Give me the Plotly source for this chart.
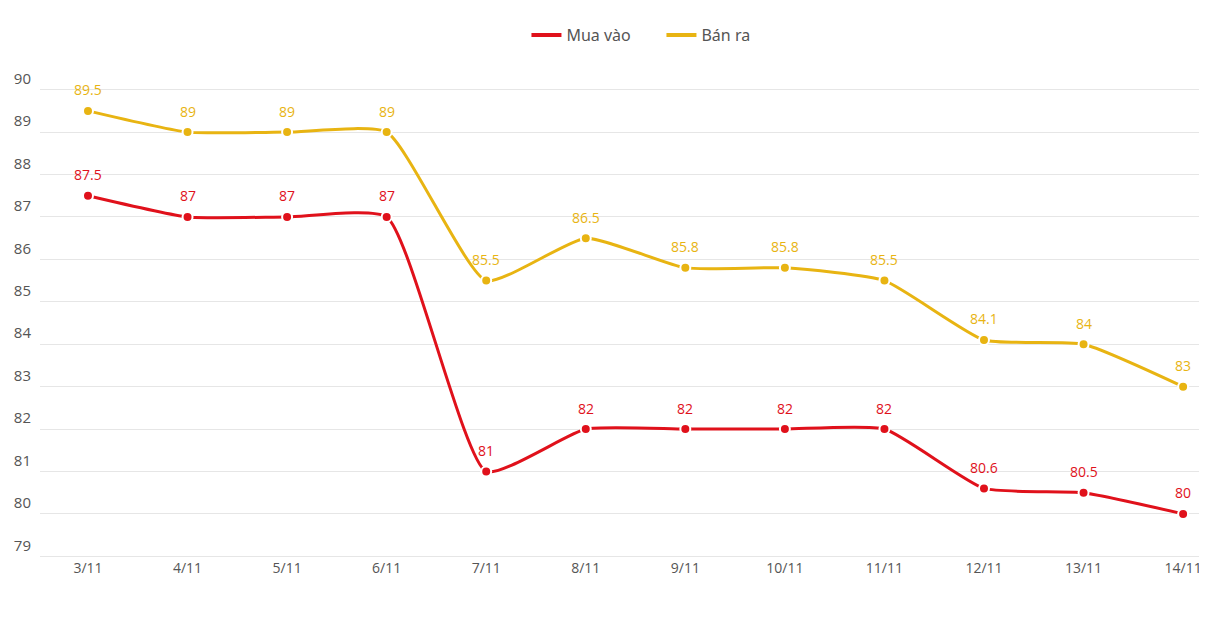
import plotly.graph_objects as go

dates = ["3/11", "4/11", "5/11", "6/11", "7/11", "8/11", "9/11", "10/11", "11/11", "12/11", "13/11", "14/11"]
mua_vao = [87.5, 87, 87, 87, 81, 82, 82, 82, 82, 80.6, 80.5, 80]
ban_ra = [89.5, 89, 89, 89, 85.5, 86.5, 85.8, 85.8, 85.5, 84.1, 84, 83]
y_ticks = list(range(79, 91))

RED = "#E0111B"
YELLOW = "#E8B412"
xs = list(range(len(dates)))

fig = go.Figure()
series = [("Mua vào", mua_vao, RED), ("Bán ra", ban_ra, YELLOW)]
for name, vals, col in series:
    fig.add_trace(go.Scatter(
        x=xs, y=vals, name=name, mode="lines+markers", showlegend=False,
        line=dict(color=col, width=3, shape="spline", smoothing=0.5),
        marker=dict(size=10, color=col, line=dict(color="white", width=2)),
        cliponaxis=False,
    ))
    for x, v in zip(xs, vals):
        fig.add_annotation(x=x, y=v, text=f"{v:g}", showarrow=False, yshift=21,
                           font=dict(color=col, size=14, family="Open Sans"))
for name, vals, col in series:
    fig.add_trace(go.Scatter(x=[None], y=[None], name=name, mode="lines",
                             line=dict(color=col, width=4)))

# page body has an 8px margin, so the figure is sized/offset to compensate
fig.update_layout(
    width=1199, height=617,
    margin=dict(l=32, r=0, t=80, b=67),
    plot_bgcolor="white", paper_bgcolor="white",
    font=dict(family="Open Sans", color="#555555", size=14),
    legend=dict(orientation="h", x=0.545, xref="container", xanchor="center",
                y=1 - 27 / 617, yref="container", yanchor="middle",
                font=dict(size=16, family="Noto Sans", color="#555555"), itemwidth=30, entrywidth=90,
                traceorder="normal"),
    showlegend=True,
)
fig.update_xaxes(range=[-0.482, 11.24], tickvals=xs, ticktext=dates, showgrid=False, automargin=False,
                 zeroline=False, showline=False, ticks="", tickfont=dict(size=14, color="#555555"))
fig.update_yaxes(range=[78.96, 90.04], tickvals=y_ticks, showgrid=True, gridcolor="#e6e6e6", automargin=False,
                 zeroline=False, showline=False, ticks="", ticklabelshift=-11, ticklabelstandoff=8,
                 tickfont=dict(size=15, color="#555555"))

fig.write_html("out.html")
